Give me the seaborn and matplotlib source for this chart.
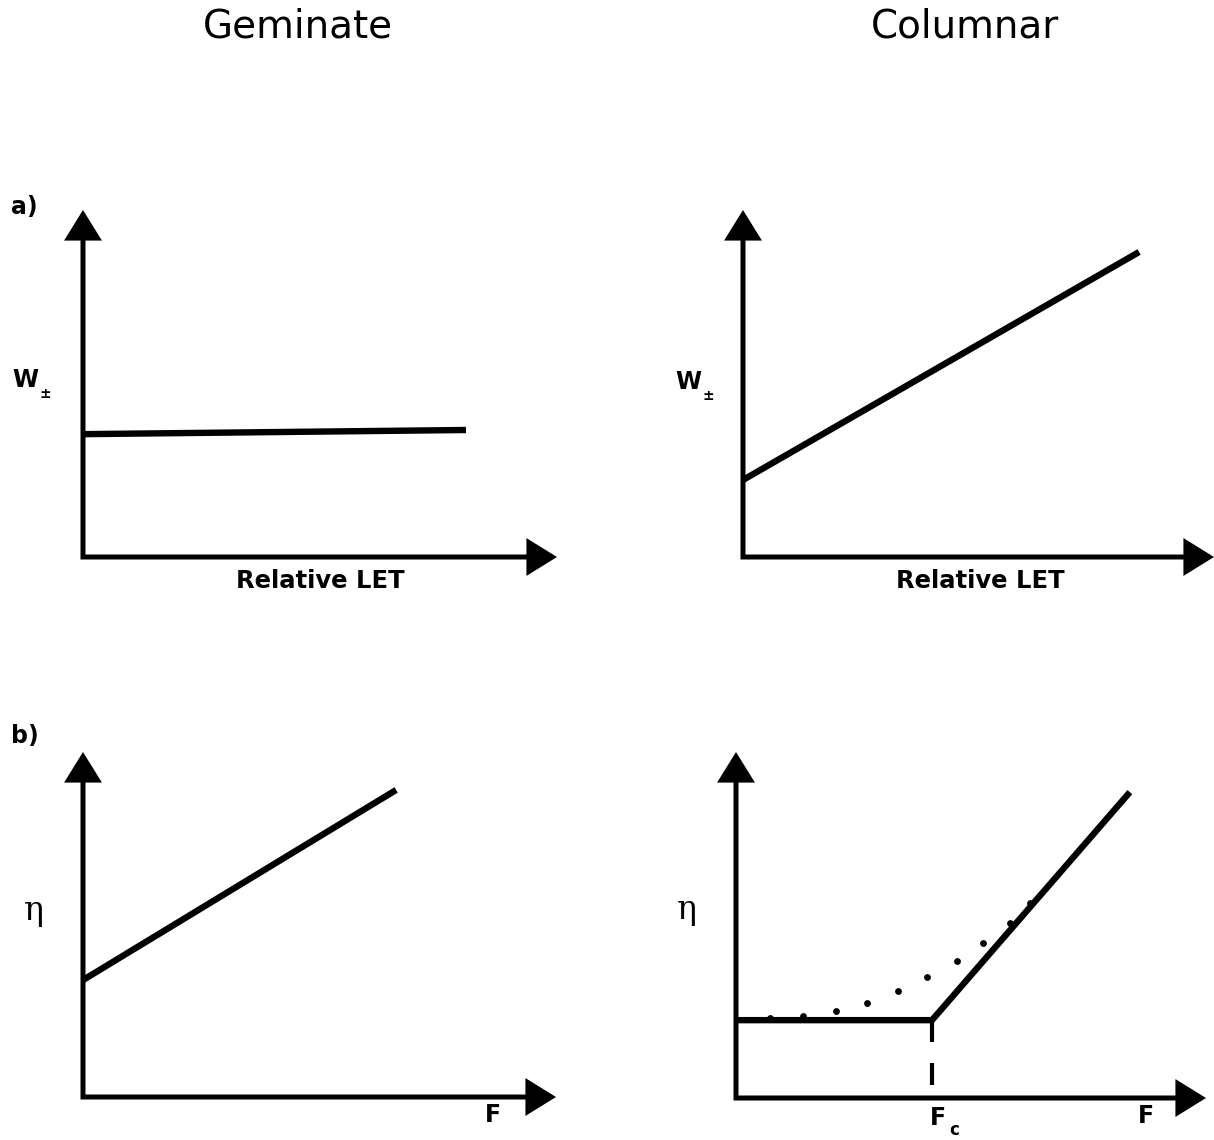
import matplotlib
matplotlib.use("Agg")
import matplotlib.pyplot as plt
import seaborn as sns
import numpy as np

# ---------------- data (schematic units, axis arrow tip = 10) ----------------
titles = ["Geminate", "Columnar"]
xlabels_top = ["Relative LET", "Relative LET"]

# a) Geminate: W± vs relative LET (flat)
let_gem = [0.0, 8.08]
w_gem = [3.54, 3.66]
# a) Columnar: W± vs relative LET (rising)
let_col = [0.0, 8.41]
w_col = [2.22, 8.79]
# b) Geminate: eta vs F (rising)
f_gem = [0.0, 6.62]
eta_gem = [3.39, 8.90]
# b) Columnar: eta vs F (flat until Fc, then rising)
f_col = [0.0, 4.17, 8.38]
eta_col = [2.25, 2.25, 8.84]
# dotted smooth transition
f_dots = [0.72, 1.43, 2.13, 2.79, 3.45, 4.06, 4.70, 5.26, 5.83, 6.26]
eta_dots = [2.31, 2.37, 2.51, 2.75, 3.09, 3.50, 3.96, 4.48, 5.06, 5.64]
# critical field marker
f_c = 4.17
fc_tick_upper = [1.62, 2.25]
fc_tick_lower = [0.38, 1.01]

# ---------------- figure ----------------
W, H = 1214, 1140
sns.set_theme(style="white")
plt.rcParams["font.family"] = ["DejaVu Sans"]
plt.rcParams["text.color"] = "black"
fig = plt.figure(figsize=(W / 100, H / 100), dpi=100)
fig.patch.set_facecolor("white")

def make_ax(ox, oy, xtip, ytip):
    # origin pixel (ox, oy), arrow tips at xtip (x) / ytip (y) ; top-left pixel coords
    return fig.add_axes([ox / W, 1 - oy / H, (xtip - ox) / W, (oy - ytip) / H])

AX_LW = 3.6
LINE_LW = 4.6

def draw_axes_arrows(ax):
    ax.set_xlim(0, 10)
    ax.set_ylim(0, 10)
    ax.axis("off")
    # the two axis shafts as one L-shaped path (square corner)
    ax.plot([0, 0, 9.6], [9.6, 0, 0], color="black", lw=AX_LW, snap=False,
            solid_joinstyle="miter", solid_capstyle="butt", clip_on=False)
    # arrow heads
    style = "-|>,head_length=0.42,head_width=0.26"
    for tail, tip in [((9.55, 0), (10, 0)), ((0, 9.55), (0, 10))]:
        ax.annotate("", xy=tip, xytext=tail, xycoords="data",
                    arrowprops=dict(arrowstyle=style, lw=AX_LW, color="black",
                                    mutation_scale=40, shrinkA=0, shrinkB=0,
                                    joinstyle="miter", capstyle="butt"),
                    annotation_clip=False)

axA = make_ax(83, 557, 557, 210)
axB = make_ax(743, 557, 1214, 210)
axC = make_ax(83, 1097, 556, 752)
axD = make_ax(736, 1098, 1206, 752)

for ax in (axA, axB, axC, axD):
    draw_axes_arrows(ax)

kw = dict(color="black", linewidth=LINE_LW, estimator=None, sort=False, legend=False)
sns.lineplot(x=let_gem, y=w_gem, ax=axA, **kw)
sns.lineplot(x=let_col, y=w_col, ax=axB, **kw)
sns.lineplot(x=f_gem, y=eta_gem, ax=axC, **kw)
sns.lineplot(x=f_col, y=eta_col, ax=axD, **kw)
sns.scatterplot(x=f_dots, y=eta_dots, ax=axD, color="black", s=24, linewidth=0, legend=False)
sns.lineplot(x=[f_c, f_c], y=fc_tick_upper, ax=axD, color="black", linewidth=3.0,
             estimator=None, sort=False, legend=False)
sns.lineplot(x=[f_c, f_c], y=fc_tick_lower, ax=axD, color="black", linewidth=3.0,
             estimator=None, sort=False, legend=False)
for ax in (axA, axB, axC, axD):
    ax.set_xlim(0, 10)
    ax.set_ylim(0, 10)
    ax.axis("off")
    for ln in ax.lines[1:]:
        ln.set_clip_on(False)
        ln.set_solid_capstyle("butt")
    for c in ax.collections:
        c.set_clip_on(False)

def ftext(x, y, s, **k):
    k.setdefault("color", "black")
    fig.text(x / W, 1 - y / H, s, **k)

# titles
ftext(298, 38, titles[0], fontsize=28, ha="center", va="baseline")
ftext(965, 38, titles[1], fontsize=28, ha="center", va="baseline")

# panel letters
ftext(11, 207, "a)", fontsize=17, fontweight="bold", ha="left", va="center")
ftext(11, 736, "b)", fontsize=17, fontweight="bold", ha="left", va="center")

# x labels
ftext(320, 588, xlabels_top[0], fontsize=17.5, fontweight="bold", ha="center", va="baseline")
ftext(980, 588, xlabels_top[1], fontsize=17.5, fontweight="bold", ha="center", va="baseline")
ftext(493, 1122, "F", fontsize=17, fontweight="bold", ha="center", va="baseline")
ftext(1146, 1123, "F", fontsize=17, fontweight="bold", ha="center", va="baseline")
ftext(938, 1125, "F", fontsize=17, fontweight="bold", ha="center", va="baseline")
ftext(954, 1135, "c", fontsize=12, fontweight="bold", ha="center", va="baseline")

# y labels
ftext(12, 387, "W", fontsize=17, fontweight="bold", ha="left", va="baseline")
ftext(45, 394, "±", fontsize=10, fontweight="bold", ha="center", va="center")
ftext(675, 389, "W", fontsize=17, fontweight="bold", ha="left", va="baseline")
ftext(708, 396, "±", fontsize=10, fontweight="bold", ha="center", va="center")
ftext(34, 911, "η", fontsize=24, family="DejaVu Serif", ha="center", va="center")
ftext(687, 910, "η", fontsize=24, family="DejaVu Serif", ha="center", va="center")

fig.savefig("out.png", dpi=100, facecolor="white")
